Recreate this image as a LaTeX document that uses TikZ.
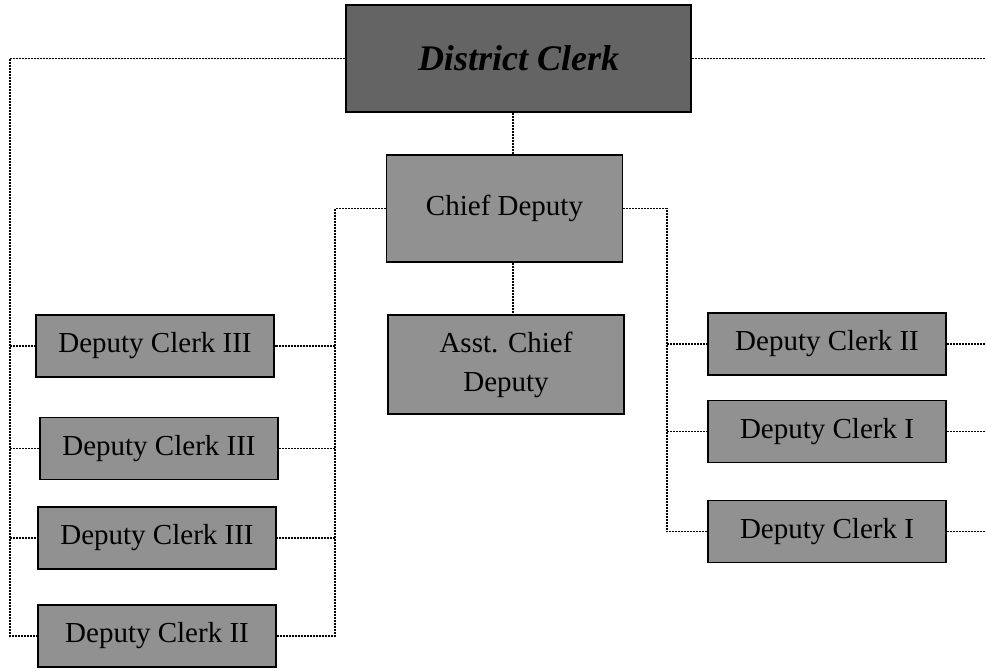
\documentclass[tikz,border=0pt]{standalone}
\usepackage{fontspec}
\setmainfont{Liberation Serif}
\usepackage{xcolor}
\usepackage{tikz}
\definecolor{boxgray}{RGB}{145, 145, 145}
\definecolor{clerkgray}{RGB}{100, 100, 100}

\begin{document}
\begin{tikzpicture}[
    x=1pt, y=-1pt,
    head/.style={rectangle, draw=black, line width=1.5pt, fill=clerkgray, minimum width=345pt, minimum height=107pt, align=center, font=\fontsize{36}{42}\selectfont\bfseries\itshape},
    chief/.style={rectangle, draw=black, line width=1.5pt, fill=boxgray, minimum width=236pt, align=center, font=\fontsize{29}{39}\selectfont},
    clerk/.style={rectangle, draw=black, line width=1.5pt, fill=boxgray, minimum width=238pt, minimum height=62pt, align=center, font=\fontsize{29}{34}\selectfont},
    link/.style={black, line width=1.5pt, dash pattern=on 2pt off 1pt}
]
    \useasboundingbox (0,0) rectangle (986,671);

    % Top
    \node[head] (district) at (518.5, 58.5) {District Clerk};
    \node[chief, minimum height=107pt] (chief) at (504.5, 208.5) {Chief Deputy};
    \node[chief, minimum height=99pt] (asst) at (506, 364.5) {Asst. Chief\\Deputy};

    % Left column
    \node[clerk] (left_a) at (155, 346) {Deputy Clerk III};
    \node[clerk] (left_b) at (159, 448.5) {Deputy Clerk III};
    \node[clerk] (left_c) at (157, 538) {Deputy Clerk III};
    \node[clerk] (left_d) at (157, 636) {Deputy Clerk II};

    % Right column
    \node[clerk] (right_a) at (827, 344) {Deputy Clerk II};
    \node[clerk] (right_b) at (827, 431.5) {Deputy Clerk I};
    \node[clerk] (right_c) at (827, 531.5) {Deputy Clerk I};

    % Bus lines
    \coordinate (stem) at (513, 0);
    \coordinate (outer_left) at (10, 0);
    \coordinate (inner_left) at (335, 0);
    \coordinate (inner_right) at (667, 0);
    \coordinate (outer_right) at (986, 0);

    % Lines
    \draw[link] (stem |- district.south) -- (stem |- chief.north);
    \draw[link] (stem |- chief.south) -- (stem |- asst.north);
    \draw[link] (district.west) -| (outer_left |- left_d.west) -- (left_d.west);
    \draw[link] (district.east) -- (outer_right |- district.east);

    \draw[link] (outer_left |- left_a.west) -- (left_a.west);
    \draw[link] (outer_left |- left_b.west) -- (left_b.west);
    \draw[link] (outer_left |- left_c.west) -- (left_c.west);

    \draw[link] (chief.west) -| (inner_left |- left_d.east) -- (left_d.east);
    \draw[link] (inner_left |- left_a.east) -- (left_a.east);
    \draw[link] (inner_left |- left_b.east) -- (left_b.east);
    \draw[link] (inner_left |- left_c.east) -- (left_c.east);

    \draw[link] (chief.east) -| (inner_right |- right_c.west) -- (right_c.west);
    \draw[link] (inner_right |- right_a.west) -- (right_a.west);
    \draw[link] (inner_right |- right_b.west) -- (right_b.west);

    \draw[link] (right_a.east) -- (outer_right |- right_a.east);
    \draw[link] (right_b.east) -- (outer_right |- right_b.east);
    \draw[link] (right_c.east) -- (outer_right |- right_c.east);

\end{tikzpicture}
\end{document}
